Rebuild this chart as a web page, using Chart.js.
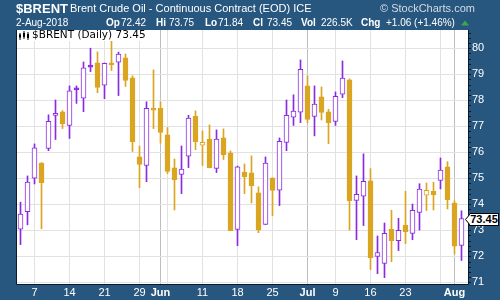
<!DOCTYPE html>
<html>
<head>
<meta charset="utf-8">
<script src="https://cdn.jsdelivr.net/npm/chart.js@4.4.1/dist/chart.umd.min.js"></script>
<style>
  html, body { margin: 0; padding: 0; }
  body { width: 500px; height: 300px; background: #27577f; position: relative; overflow: hidden;
         font-family: "Liberation Sans", Arial, sans-serif; color: #fff; }
  #wrap { position: absolute; left: 0; top: 0; width: 500px; height: 300px; }
  .t { position: absolute; white-space: nowrap; line-height: 1; }
  .b { font-weight: bold; }
  #legend { position: absolute; left: 17px; top: 30px; width: 142px; height: 11px; background: #fff; }
  #legend span { position: absolute; left: 15px; top: -1px; font: 10.5px "DejaVu Sans", sans-serif; color: #000;
                 line-height: 1; white-space: nowrap; }
  #legend svg { position: absolute; left: 2px; top: 1px; }
  #last { position: absolute; left: 470px; width: 28px; height: 11px; background: #fff; border: 1px solid #000;
          border-left: none; color: #000; font: bold 11px "Liberation Sans", Arial, sans-serif; line-height: 11px;
          text-align: center; }
  #lastArrow { position: absolute; left: 465px; }
</style>
</head>
<body>
<div id="wrap"><canvas id="chart" width="500" height="300"></canvas></div>

<div class="t b" style="left:16px;top:2px;font-size:13px">$BRENT</div>
<div class="t" style="left:70px;top:3px;font-size:11px">Brent Crude Oil - Continuous Contract (EOD) ICE</div>
<div class="t" style="left:380px;top:3px;font-size:11px;color:#d3dbe6">© StockCharts.com</div>

<div class="t" style="left:16px;top:18px;font-size:10px">2-Aug-2018</div>
<div class="t b" style="left:106px;top:18px;font-size:10px">Op</div>
<div class="t" style="left:121px;top:18px;font-size:10px">72.42</div>
<div class="t b" style="left:156px;top:18px;font-size:10px">Hi</div>
<div class="t" style="left:169px;top:18px;font-size:10px">73.75</div>
<div class="t b" style="left:205px;top:18px;font-size:10px">Lo</div>
<div class="t" style="left:218px;top:18px;font-size:10px">71.84</div>
<div class="t b" style="left:253px;top:18px;font-size:10px">Cl</div>
<div class="t" style="left:267px;top:18px;font-size:10px">73.45</div>
<div class="t b" style="left:301px;top:18px;font-size:10px">Vol</div>
<div class="t" style="left:321px;top:18px;font-size:10px">226.5K</div>
<div class="t b" style="left:361px;top:18px;font-size:10px">Chg</div>
<div class="t" style="left:386px;top:18px;font-size:10px">+1.06 (+1.46%)</div>
<svg class="t" style="left:461px;top:20px" width="8" height="6"><polygon points="0,5.5 4,0.5 8,5.5" fill="#3aa84a"/></svg>

<div id="legend">
  <svg width="11" height="9">
    <rect x="0.5" y="2" width="1" height="7" fill="#000"/><rect x="0" y="3.5" width="2" height="3" fill="#000"/>
    <rect x="4.5" y="0" width="1" height="8" fill="#000"/><rect x="4" y="2" width="2" height="4" fill="#000"/>
    <rect x="8.5" y="1" width="1" height="8" fill="#000"/><rect x="8" y="3" width="2" height="4" fill="#000"/>
  </svg>
  <span>$BRENT (Daily) 73.45</span>
</div>
<svg id="lastArrow" width="6" height="13"><polygon points="5.5,0.5 0.5,6.5 5.5,12.5" fill="#fff" stroke="#000" stroke-width="1"/></svg>
<div id="last">73.45</div>

<script>
// trading days shown on the chart
const dates = [
  "2018-05-03","2018-05-04","2018-05-07","2018-05-08","2018-05-09","2018-05-10","2018-05-11",
  "2018-05-14","2018-05-15","2018-05-16","2018-05-17","2018-05-18","2018-05-21","2018-05-22",
  "2018-05-23","2018-05-24","2018-05-25","2018-05-29","2018-05-30","2018-05-31","2018-06-01",
  "2018-06-04","2018-06-05","2018-06-06","2018-06-07","2018-06-08","2018-06-11","2018-06-12",
  "2018-06-13","2018-06-14","2018-06-15","2018-06-18","2018-06-19","2018-06-20","2018-06-21",
  "2018-06-22","2018-06-25","2018-06-26","2018-06-27","2018-06-28","2018-06-29","2018-07-02",
  "2018-07-03","2018-07-05","2018-07-06","2018-07-09","2018-07-10","2018-07-11","2018-07-12",
  "2018-07-13","2018-07-16","2018-07-17","2018-07-18","2018-07-19","2018-07-20","2018-07-23",
  "2018-07-24","2018-07-25","2018-07-26","2018-07-27","2018-07-30","2018-07-31","2018-08-01",
  "2018-08-02"
];
const open = [73.04,73.72,75.00,75.58,76.15,77.42,77.55,77.03,78.44,78.08,79.30,79.44,78.58,79.37,79.46,79.63,
  78.86,75.82,75.49,77.63,77.69,76.67,75.40,75.15,75.85,77.38,76.27,76.51,75.38,76.55,75.97,73.03,
  75.24,75.21,74.44,73.23,75.01,74.54,76.38,77.35,77.54,78.55,77.38,78.13,77.55,77.19,78.23,78.78,
  74.15,74.31,74.90,72.00,71.73,73.04,72.60,73.19,72.88,73.69,74.35,74.50,74.92,75.44,74.05,72.42];
const high = [74.08,75.09,76.32,75.60,77.44,78.01,77.60,78.55,78.55,79.47,80.00,79.86,79.43,80.27,79.85,79.78,
  78.94,76.24,77.94,79.17,77.94,76.95,75.74,76.24,77.42,77.59,76.82,77.05,76.86,76.90,76.05,75.47,
  75.55,75.86,74.67,75.82,75.02,76.55,78.01,78.21,79.55,78.94,78.55,78.51,77.65,78.32,79.51,78.82,
  75.09,75.94,75.37,72.78,73.28,73.77,73.46,74.50,74.01,74.79,74.82,74.85,75.78,75.64,74.13,73.75];
const low = [72.45,73.21,74.78,73.06,76.06,76.49,76.91,76.53,77.88,77.56,79.10,78.29,78.06,79.14,78.18,78.53,
  76.03,74.64,74.87,76.91,76.35,75.18,73.78,74.41,75.41,76.10,75.49,75.40,75.22,75.72,72.98,72.41,
  74.41,74.05,72.91,73.22,73.56,73.95,76.06,77.03,77.14,77.14,76.63,77.24,76.33,77.03,78.10,73.01,
  72.64,73.18,71.49,71.33,71.18,71.79,72.22,72.49,72.64,73.01,73.76,73.78,74.59,73.82,72.09,71.84];
const close = [73.62,74.85,76.17,74.83,77.19,77.50,77.10,78.36,78.40,79.25,79.27,78.49,79.42,79.36,79.77,78.76,
  76.41,75.53,77.69,77.62,76.76,75.26,74.95,75.35,77.31,76.41,76.38,75.41,76.51,75.91,72.99,75.44,
  75.06,74.72,73.01,75.58,74.53,76.42,77.42,77.58,79.19,77.26,77.85,77.53,77.14,78.15,78.85,74.14,
  74.38,74.88,71.95,72.14,72.88,72.60,73.00,72.95,73.77,74.58,74.54,74.37,75.31,74.18,72.39,73.45];

const xTickDates = ["2018-05-07","2018-05-14","2018-05-21","2018-05-29","2018-06-01","2018-06-04","2018-06-11",
  "2018-06-18","2018-06-25","2018-07-02","2018-07-09","2018-07-16","2018-07-23","2018-07-30","2018-08-01"];
const xTickLabels = ["7","14","21","29","Jun","","11","18","25","Jul","9","16","23","","Aug"];
const monthLabels = ["Jun","Jul","Aug"];
const yTicks = [71,72,73,74,75,76,77,78,79,80];

const PURPLE = "#8a2be2";
const GOLD = "#daa520";

const xTickPos = xTickDates.map(d => dates.indexOf(d));
const labelAt = {};
xTickPos.forEach((p, k) => { labelAt[p] = xTickLabels[k]; });
const isMonth = v => monthLabels.includes(labelAt[v]);

const colors = close.map((c, i) => (i === 0 || c >= close[i - 1]) ? PURPLE : GOLD);
const bodies = dates.map((d, i) => ({ x: i, y: [Math.min(open[i], close[i]), Math.max(open[i], close[i])] }));
const wicks = dates.map((d, i) => ({ x: i, y: [low[i], high[i]] }));

const frame = {
  id: "frame",
  beforeDraw(chart) {
    const { ctx, chartArea: a } = chart;
    ctx.save();
    ctx.fillStyle = "#fff";
    ctx.fillRect(a.left, a.top, a.right - a.left, a.bottom - a.top);
    ctx.restore();
  },
  afterDraw(chart) {
    const { ctx, chartArea: a, scales: { y } } = chart;
    ctx.save();
    ctx.strokeStyle = "#0c1a2c";
    ctx.lineWidth = 1;
    ctx.beginPath();
    ctx.moveTo(a.left - 0.5, a.top);
    ctx.lineTo(a.left - 0.5, a.bottom + 0.5);
    ctx.lineTo(a.right + 0.5, a.bottom + 0.5);
    ctx.lineTo(a.right + 0.5, a.top);
    ctx.stroke();
    ctx.fillStyle = "#0c1a2c";
    for (let v = 71; v <= 80.7; v += 0.2) {
      ctx.fillRect(a.right + 1, Math.round(y.getPixelForValue(v)), 2, 1);
    }
    ctx.restore();
  }
};

const chart = new Chart(document.getElementById("chart"), {
  type: "bar",
  data: {
    datasets: [
      {
        data: bodies,
        backgroundColor: dates.map((d, i) => close[i] < open[i] ? colors[i] : "#fff"),
        borderColor: colors,
        borderWidth: 1,
        borderSkipped: false,
        barThickness: 5,
        minBarLength: 2,
        grouped: false
      },
      {
        data: wicks,
        backgroundColor: colors,
        borderWidth: 0,
        barThickness: 1,
        grouped: false
      }
    ]
  },
  options: {
    responsive: false,
    devicePixelRatio: 1,
    animation: false,
    layout: { padding: { left: 17, top: 30, right: 0, bottom: 0 } },
    plugins: { legend: { display: false }, tooltip: { enabled: false } },
    scales: {
      x: {
        type: "linear",
        min: -0.5,
        max: 63.93,
        offset: false,
        afterBuildTicks: s => { s.ticks = xTickPos.map(v => ({ value: v })); },
        afterFit: s => { s.height = 16; },
        border: { display: false },
        grid: {
          offset: false,
          drawTicks: false,
          color: c => isMonth(c.tick && c.tick.value) ? "#bdbdbd" : "#e2e2e2"
        },
        ticks: {
          autoSkip: false,
          maxRotation: 0,
          padding: 2,
          color: "#fff",
          font: c => ({ family: "'Liberation Sans', Arial, sans-serif", size: 11,
                        weight: isMonth(c.tick && c.tick.value) ? "bold" : "normal" }),
          callback: v => labelAt[v] || ""
        }
      },
      y: {
        position: "right",
        min: 70.935,
        max: 80.70,
        afterBuildTicks: s => { s.ticks = yTicks.map(v => ({ value: v })); },
        afterFit: s => { s.width = 32; },
        border: { display: false },
        grid: { drawTicks: false, color: "#e2e2e2" },
        ticks: {
          padding: 4,
          color: "#fff",
          font: { family: "'Liberation Sans', Arial, sans-serif", size: 11 }
        }
      }
    }
  },
  plugins: [frame]
});

// last price tag on the right axis
const lastY = chart.scales.y.getPixelForValue(close[close.length - 1]);
document.getElementById("last").style.top = Math.round(lastY - 6) + "px";
document.getElementById("lastArrow").style.top = Math.round(lastY - 6) + "px";
</script>
</body>
</html>
